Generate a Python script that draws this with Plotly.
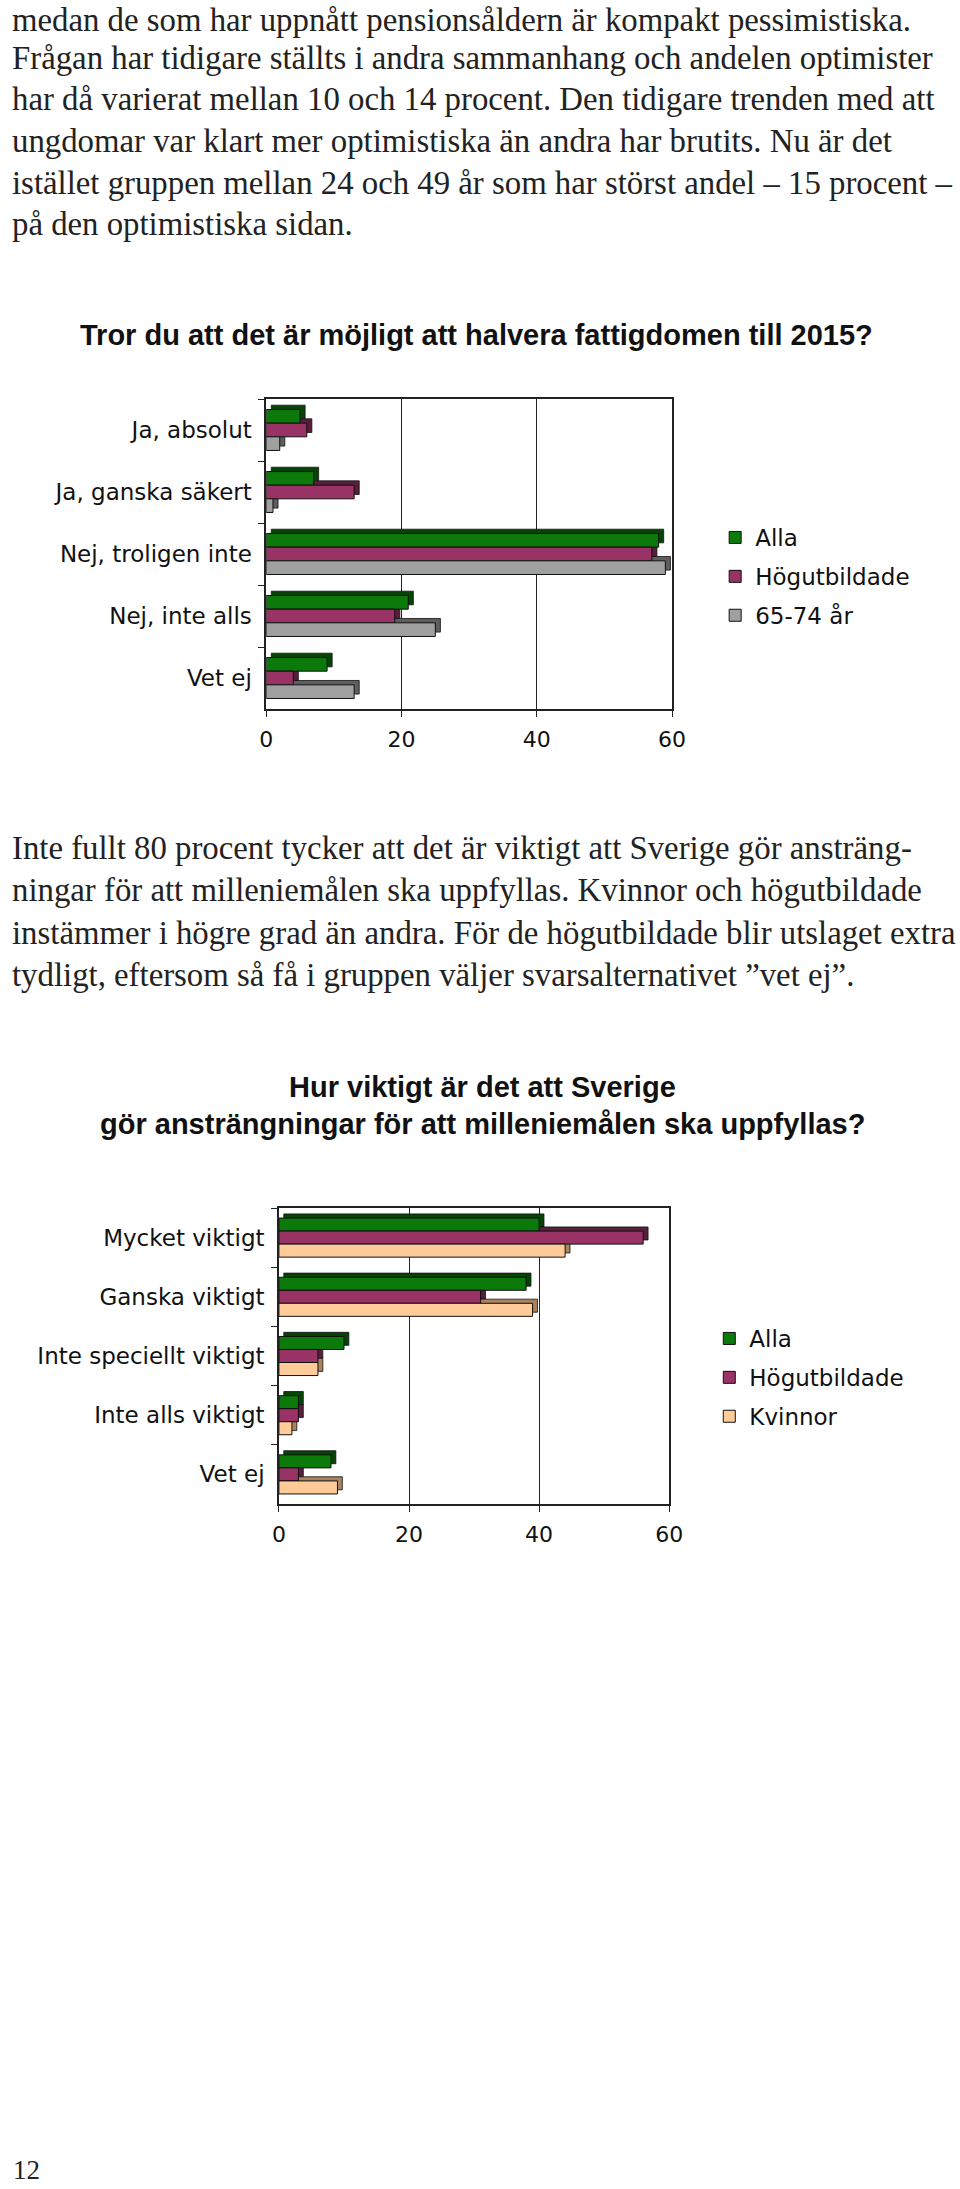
import plotly.graph_objects as go

# ---------------- data ----------------
cat1 = ["Ja, absolut", "Ja, ganska säkert", "Nej, troligen inte", "Nej, inte alls", "Vet ej"]
alla1 = [5, 7, 58, 21, 9]
hog1 = [6, 13, 57, 19, 4]
age1 = [2, 1, 59, 25, 13]
series1_names = ["Alla", "Högutbildade", "65-74 år"]

cat2 = ["Mycket viktigt", "Ganska viktigt", "Inte speciellt viktigt", "Inte alls viktigt", "Vet ej"]
alla2 = [40, 38, 10, 3, 8]
hog2 = [56, 31, 6, 3, 3]
kvin2 = [44, 39, 6, 2, 9]
series2_names = ["Alla", "Högutbildade", "Kvinnor"]

x_ticks = [0, 20, 40, 60]

para1 = [
    "medan de som har uppnått pensionsåldern är kompakt pessimistiska.",
    "Frågan har tidigare ställts i andra sammanhang och andelen optimister",
    "har då varierat mellan 10 och 14 procent. Den tidigare trenden med att",
    "ungdomar var klart mer optimistiska än andra har brutits. Nu är det",
    "istället gruppen mellan 24 och 49 år som har störst andel – 15 procent –",
    "på den optimistiska sidan.",
]
para2 = [
    "Inte fullt 80 procent tycker att det är viktigt att Sverige gör ansträng-",
    "ningar för att milleniemålen ska uppfyllas. Kvinnor och högutbildade",
    "instämmer i högre grad än andra. För de högutbildade blir utslaget extra",
    "tydligt, eftersom så få i gruppen väljer svarsalternativet ”vet ej”.",
]
title1 = "Tror du att det är möjligt att halvera fattigdomen till 2015?"
title2 = ["Hur viktigt är det att Sverige", "gör ansträngningar för att milleniemålen ska uppfyllas?"]
page_no = "12"

# ---------------- style ----------------
W, H = 960, 2189
COLORS1 = ["#0B7A0B", "#993366", "#A0A0A0"]
COLORS2 = ["#0B7A0B", "#993366", "#FFCC99"]
SHADE = {"#0B7A0B": "#054405", "#993366": "#5A1E3C", "#A0A0A0": "#5E5E5E", "#FFCC99": "#A8845F"}
SERIF = "Liberation Serif, Times New Roman, serif"
SANS = "DejaVu Sans, Verdana, sans-serif"
BOLD = "Liberation Sans, Arial, sans-serif"

BAR_W = 0.22           # bar thickness in category units
OFFSETS = [-0.33, -0.11, 0.11]
DEPTH_Y = 0.07         # 3D depth (upwards, category units)
DEPTH_X = 0.75         # 3D depth (rightwards, value units)


def px(x):
    return x / W


def py(y):
    return 1 - y / H


fig = go.Figure()


def add_chart(cats, series, names, colors, xa, ya, legend_name, grp_prefix):
    # depth faces first (drawn behind the front faces)
    for i, (vals, col) in enumerate(zip(series, colors)):
        fig.add_trace(go.Bar(
            y=cats, x=vals, base=DEPTH_X, orientation="h", xaxis=xa, yaxis=ya,
            width=BAR_W, offset=OFFSETS[i] - DEPTH_Y,
            marker=dict(color=SHADE[col], line=dict(color="#111111", width=0.8)),
            showlegend=False, hoverinfo="skip",
        ))
    for i, (name, vals, col) in enumerate(zip(names, series, colors)):
        fig.add_trace(go.Bar(
            y=cats, x=vals, name=name, orientation="h", xaxis=xa, yaxis=ya,
            width=BAR_W, offset=OFFSETS[i],
            marker=dict(color=col, line=dict(color="#111111", width=1)),
            legend=legend_name, legendgroup=grp_prefix + name, hoverinfo="x+y+name",
        ))


add_chart(cat1, [alla1, hog1, age1], series1_names, COLORS1, "x", "y", "legend", "a")
add_chart(cat2, [alla2, hog2, kvin2], series2_names, COLORS2, "x2", "y2", "legend2", "b")

axis_common_x = dict(
    range=[0, 60], tickvals=x_ticks, ticks="outside", ticklen=6, tickcolor="#222",
    showline=True, linecolor="#222", linewidth=1.5, mirror=True,
    showgrid=True, gridcolor="#222", gridwidth=1, zeroline=False,
    tickfont=dict(family=SANS, size=22, color="#111"), ticklabelstandoff=4,
)
axis_common_y = dict(
    type="category", autorange="reversed", ticks="outside", ticklen=6, tickcolor="#222",
    tickson="boundaries", showline=True, linecolor="#222", linewidth=1.5, mirror=True,
    showgrid=False, tickfont=dict(family=SANS, size=23, color="#111"), ticklabelstandoff=8,
)

annotations = []
for i, (line, yc) in enumerate(zip(para1, [16, 58, 99, 141, 183, 224])):
    if i == 0:
        pos = dict(y=1.0, yanchor="top")
    else:
        pos = dict(y=py(yc), yanchor="middle")
    annotations.append(dict(text=line, x=px(3), xref="paper", yref="paper",
                            xanchor="left", showarrow=False,
                            font=dict(family=SERIF, size=32.8, color="#222"), **pos))
for line, yc in zip(para2, [848, 890, 933, 975]):
    annotations.append(dict(text=line, x=px(3), y=py(yc), xref="paper", yref="paper",
                            xanchor="left", yanchor="middle", showarrow=False,
                            font=dict(family=SERIF, size=32.8, color="#222")))
annotations.append(dict(text="<b>" + title1 + "</b>", x=px(480), y=py(335), xref="paper", yref="paper",
                        xanchor="center", yanchor="middle", showarrow=False,
                        font=dict(family=BOLD, size=29, color="#111")))
for line, yc in zip(title2, [1087, 1124]):
    annotations.append(dict(text="<b>" + line + "</b>", x=px(486), y=py(yc), xref="paper", yref="paper",
                            xanchor="center", yanchor="middle", showarrow=False,
                            font=dict(family=BOLD, size=29, color="#111")))
annotations.append(dict(text=page_no, x=px(4), y=py(2170), xref="paper", yref="paper",
                        xanchor="left", yanchor="middle", showarrow=False,
                        font=dict(family=SERIF, size=27, color="#222")))

legend_common = dict(
    xanchor="left", yanchor="top", bgcolor="rgba(0,0,0,0)", borderwidth=0,
    font=dict(family=SANS, size=23, color="#111"), tracegroupgap=6, traceorder="grouped",
)

fig.update_layout(
    width=W, height=H, margin=dict(l=0, r=0, t=0, b=0),
    paper_bgcolor="white", plot_bgcolor="white",
    barmode="overlay",
    xaxis=dict(domain=[px(265), px(680)], anchor="y", **axis_common_x),
    yaxis=dict(domain=[py(709), py(399)], anchor="x", categoryarray=cat1, **axis_common_y),
    xaxis2=dict(domain=[px(278), px(677)], anchor="y2", **axis_common_x),
    yaxis2=dict(domain=[py(1504), py(1208)], anchor="x2", categoryarray=cat2, **axis_common_y),
    legend=dict(x=px(724), y=py(516), **legend_common),
    legend2=dict(x=px(718), y=py(1317), **legend_common),
    annotations=annotations,
    showlegend=True,
)

fig.write_html("out.html", config={"displayModeBar": False},
               post_script="document.body.style.margin='0px';")
